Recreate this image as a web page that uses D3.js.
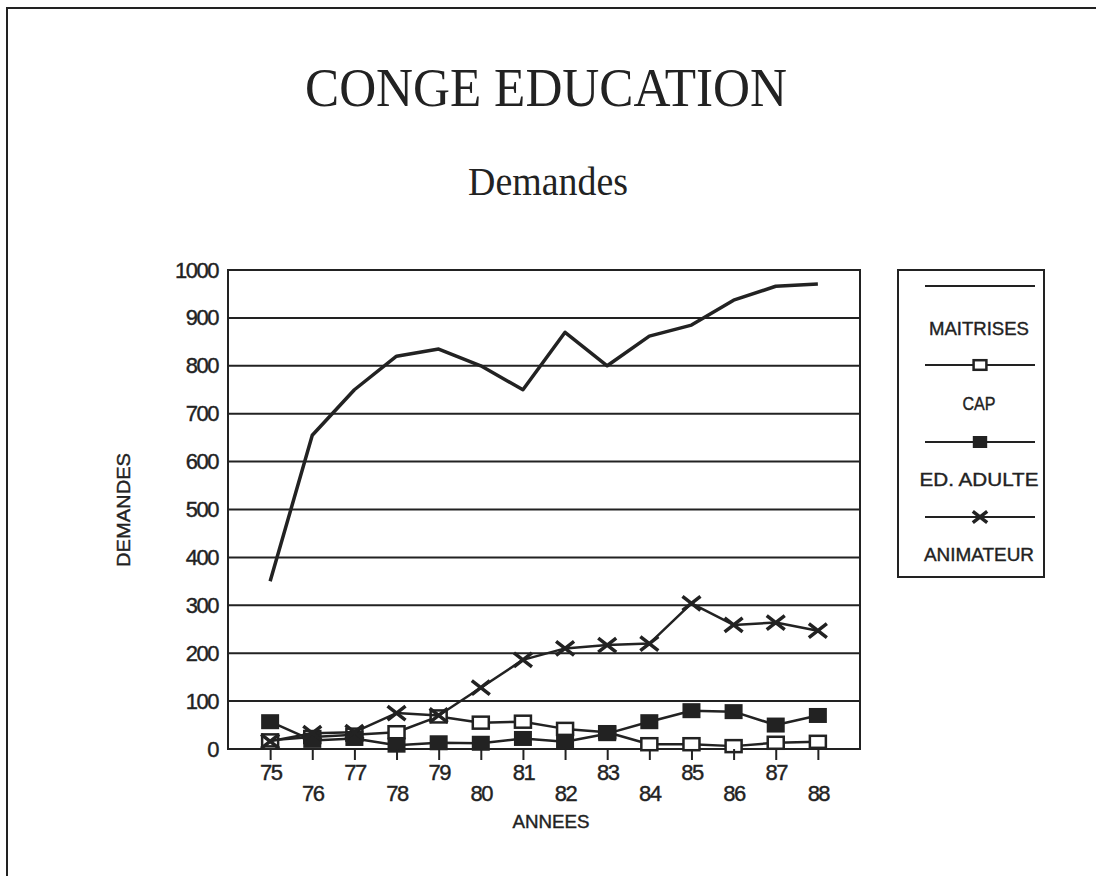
<!DOCTYPE html>
<html>
<head>
<meta charset="utf-8">
<script src="https://cdn.jsdelivr.net/npm/d3@7"></script>
<style>
  body { margin: 0; background: #fff; }
  svg { display: block; }
</style>
</head>
<body>
<svg id="chart" width="1096" height="876"></svg>
<script>
var years = ["75", "76", "77", "78", "79", "80", "81", "82", "83", "84", "85", "86", "87", "88"];
var yTicks = [0, 100, 200, 300, 400, 500, 600, 700, 800, 900, 1000];

var maitrises = [350, 655, 750, 820, 835, 800, 750, 870, 800, 862, 885, 937, 966, 971];
var cap = [18, 25, 30, 35, 68, 55, 57, 42, 35, 10, 10, 6, 13, 15];
var edAdulte = [57, 18, 22, 8, 13, 12, 22, 15, 32, 57, 80, 78, 50, 70];
var animateur = [16, 33, 35, 75, 70, 128, 186, 210, 217, 220, 304, 259, 264, 247];

var seriesNames = ["MAITRISES", "CAP", "ED. ADULTE", "ANIMATEUR"];
var seriesMarks = ["none", "open", "filled", "cross"];

var ink = "#222";
var sansFont = "'Liberation Sans Narrow', 'Liberation Sans', Arial, sans-serif";
var serifFont = "'Liberation Serif', 'DejaVu Serif', serif";

var svg = d3.select("#chart");

// page frame
svg.append("rect")
    .attr("x", 7).attr("y", 8)
    .attr("width", 1120).attr("height", 900)
    .attr("fill", "none")
    .attr("stroke", ink)
    .attr("stroke-width", 2);

svg.append("text")
    .attr("x", 546).attr("y", 106)
    .attr("text-anchor", "middle")
    .attr("font-family", serifFont)
    .attr("font-size", 54)
    .attr("textLength", 482)
    .attr("lengthAdjust", "spacingAndGlyphs")
    .attr("fill", ink)
    .text("CONGE EDUCATION");

svg.append("text")
    .attr("x", 548).attr("y", 195)
    .attr("text-anchor", "middle")
    .attr("font-family", serifFont)
    .attr("font-size", 40)
    .attr("textLength", 160)
    .attr("lengthAdjust", "spacingAndGlyphs")
    .attr("fill", ink)
    .text("Demandes");

var plotLeft = 228, plotRight = 860, plotTop = 270, plotBottom = 749;

var x = d3.scalePoint()
    .domain(years)
    .range([plotLeft, plotRight])
    .padding(1);

var y = d3.scaleLinear()
    .domain([0, 1000])
    .range([plotBottom, plotTop]);

var g = svg.append("g");

// horizontal grid lines
g.append("g")
    .selectAll("line")
    .data(yTicks)
    .enter().append("line")
    .attr("x1", plotLeft).attr("x2", plotRight)
    .attr("y1", function(d) { return y(d); })
    .attr("y2", function(d) { return y(d); })
    .attr("stroke", ink)
    .attr("stroke-width", 2);

g.append("rect")
    .attr("x", plotLeft).attr("y", plotTop)
    .attr("width", plotRight - plotLeft).attr("height", plotBottom - plotTop)
    .attr("fill", "none")
    .attr("stroke", ink)
    .attr("stroke-width", 2);

function styleLabel(sel, size) {
    sel.attr("font-family", sansFont)
        .attr("font-size", size)
        .attr("fill", ink)
        .attr("stroke", ink)
        .attr("stroke-width", 0.4);
}

// y axis labels
var yAxis = d3.axisLeft(y).tickValues(yTicks).tickSize(0).tickPadding(10)
    .tickFormat(d3.format("d"));
var yg = svg.append("g")
    .attr("transform", "translate(" + plotLeft + ",0)")
    .call(yAxis);
yg.select(".domain").remove();
yg.selectAll("text")
    .call(styleLabel, 22)
    .attr("letter-spacing", -1.5);

// x axis with staggered labels
var xAxis = d3.axisBottom(x).tickSize(11).tickPadding(4);
var xg = svg.append("g")
    .attr("transform", "translate(0," + plotBottom + ")")
    .call(xAxis);
xg.select(".domain").remove();
xg.selectAll("line").attr("stroke", ink).attr("stroke-width", 2);
xg.selectAll("text")
    .call(styleLabel, 22)
    .attr("letter-spacing", -1.5)
    .attr("dy", function(d, i) { return i % 2 == 0 ? "0.71em" : "1.66em"; });

svg.append("text")
    .attr("x", 551).attr("y", 828)
    .attr("text-anchor", "middle")
    .call(styleLabel, 18)
    .attr("textLength", 77)
    .attr("lengthAdjust", "spacingAndGlyphs")
    .text("ANNEES");

svg.append("text")
    .attr("transform", "translate(130,510) rotate(-90)")
    .attr("text-anchor", "middle")
    .call(styleLabel, 19)
    .attr("textLength", 114)
    .attr("lengthAdjust", "spacingAndGlyphs")
    .text("DEMANDES");

function drawMark(sel, kind, k) {
    k = k || 1;
    if (kind == "open") {
        sel.append("rect")
            .attr("x", -8 * k).attr("y", -6 * k).attr("width", 16 * k).attr("height", 12 * k)
            .attr("fill", "#fff").attr("stroke", ink).attr("stroke-width", 2.5);
    } else if (kind == "filled") {
        sel.append("rect")
            .attr("x", -9 * k).attr("y", -7.5 * k).attr("width", 18 * k).attr("height", 15 * k)
            .attr("fill", ink);
    } else if (kind == "cross") {
        sel.append("path")
            .attr("d", "M" + (-9 * k) + "," + (-7 * k) + "L" + (9 * k) + "," + (7 * k) +
                "M" + (-9 * k) + "," + (7 * k) + "L" + (9 * k) + "," + (-7 * k))
            .attr("stroke", ink).attr("stroke-width", 3.5);
    }
}

var seriesData = [maitrises, cap, edAdulte, animateur];

var line = d3.line()
    .x(function(d, i) { return x(years[i]); })
    .y(function(d) { return y(d); });

seriesData.forEach(function(values, s) {
    g.append("path")
        .datum(values)
        .attr("d", line)
        .attr("fill", "none")
        .attr("stroke", ink)
        .attr("stroke-width", s == 0 ? 3.5 : 2.5)
        .attr("stroke-linejoin", "round");

    if (seriesMarks[s] != "none") {
        g.append("g")
            .selectAll("g")
            .data(values)
            .enter().append("g")
            .attr("transform", function(d, i) {
                return "translate(" + x(years[i]) + "," + y(d) + ")";
            })
            .each(function() { drawMark(d3.select(this), seriesMarks[s]); });
    }
});

// legend
var legend = svg.append("g");
legend.append("rect")
    .attr("x", 898).attr("y", 270)
    .attr("width", 146).attr("height", 307)
    .attr("fill", "#fff")
    .attr("stroke", ink)
    .attr("stroke-width", 2);

var legendLineY = [286, 365, 442, 517];
var legendTextY = [328, 403, 479, 554];
var legendTextWidth = [100, 33, 119, 110];

seriesNames.forEach(function(name, s) {
    legend.append("line")
        .attr("x1", 925).attr("x2", 1035)
        .attr("y1", legendLineY[s]).attr("y2", legendLineY[s])
        .attr("stroke", ink)
        .attr("stroke-width", 2);
    var m = legend.append("g")
        .attr("transform", "translate(980," + legendLineY[s] + ")");
    drawMark(m, seriesMarks[s], 0.8);
    legend.append("text")
        .attr("x", 979).attr("y", legendTextY[s])
        .attr("dy", "0.35em")
        .attr("text-anchor", "middle")
        .call(styleLabel, 19)
        .attr("textLength", legendTextWidth[s])
        .attr("lengthAdjust", "spacingAndGlyphs")
        .text(name);
});
</script>
</body>
</html>
